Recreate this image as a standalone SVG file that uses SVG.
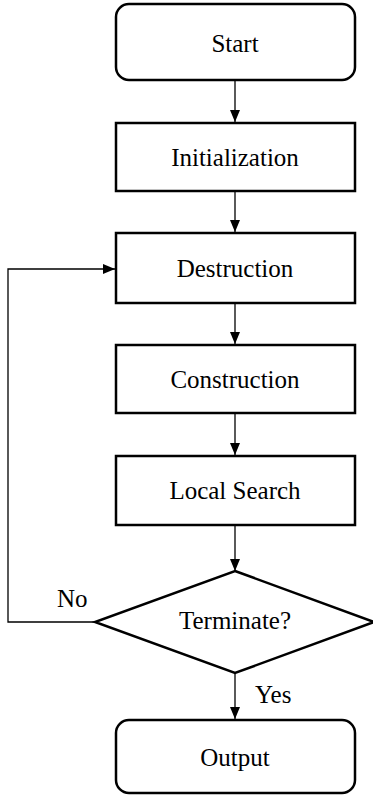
<svg xmlns="http://www.w3.org/2000/svg" width="373" height="800" viewBox="0 0 373 800">
<style>
.box{fill:#fff;stroke:#000;stroke-width:2.5}
.c{fill:none;stroke:#000;stroke-width:1.3}
</style>
<defs>
<marker id="ah" viewBox="0 0 12 10" refX="12" refY="5" markerWidth="12" markerHeight="10" markerUnits="userSpaceOnUse" orient="auto">
<path d="M0,0 L12,5 L0,10 Z" fill="#000"/>
</marker>
</defs>
<g id="connectors">
<line class="c" x1="235" y1="80" x2="235" y2="122" marker-end="url(#ah)"/>
<line class="c" x1="235" y1="191" x2="235" y2="232" marker-end="url(#ah)"/>
<line class="c" x1="235" y1="303" x2="235" y2="344" marker-end="url(#ah)"/>
<line class="c" x1="235" y1="413" x2="235" y2="455" marker-end="url(#ah)"/>
<line class="c" x1="235" y1="525" x2="235" y2="571" marker-end="url(#ah)"/>
<line class="c" x1="235" y1="673" x2="235" y2="719" marker-end="url(#ah)"/>
<polyline class="c" points="95,622 8,622 8,269 115,269" marker-end="url(#ah)"/>
<g font-family="'Liberation Serif', 'DejaVu Serif', serif" font-size="25" fill="#000">
<text x="57" y="607">No</text>
<text x="255" y="703">Yes</text>
</g>
</g>
<g font-family="'Liberation Serif', 'DejaVu Serif', serif" font-size="25" fill="#000" text-anchor="middle">
<g id="start"><rect class="box" x="116" y="4" width="239" height="76" rx="13"/><text x="235" y="52">Start</text></g>
<g id="init"><rect class="box" x="116" y="123" width="239" height="68"/><text x="235" y="166">Initialization</text></g>
<g id="destruction"><rect class="box" x="116" y="233" width="239" height="70"/><text x="235" y="277">Destruction</text></g>
<g id="construction"><rect class="box" x="116" y="345" width="239" height="68"/><text x="235" y="388">Construction</text></g>
<g id="localsearch"><rect class="box" x="116" y="456" width="239" height="69"/><text x="235" y="499">Local Search</text></g>
<g id="terminate"><polygon class="box" points="235,571 374,622 235,673 95,622"/><text x="235" y="629">Terminate?</text></g>
<g id="output"><rect class="box" x="116" y="720" width="239" height="73" rx="13"/><text x="235" y="766">Output</text></g>
</g>
</svg>
